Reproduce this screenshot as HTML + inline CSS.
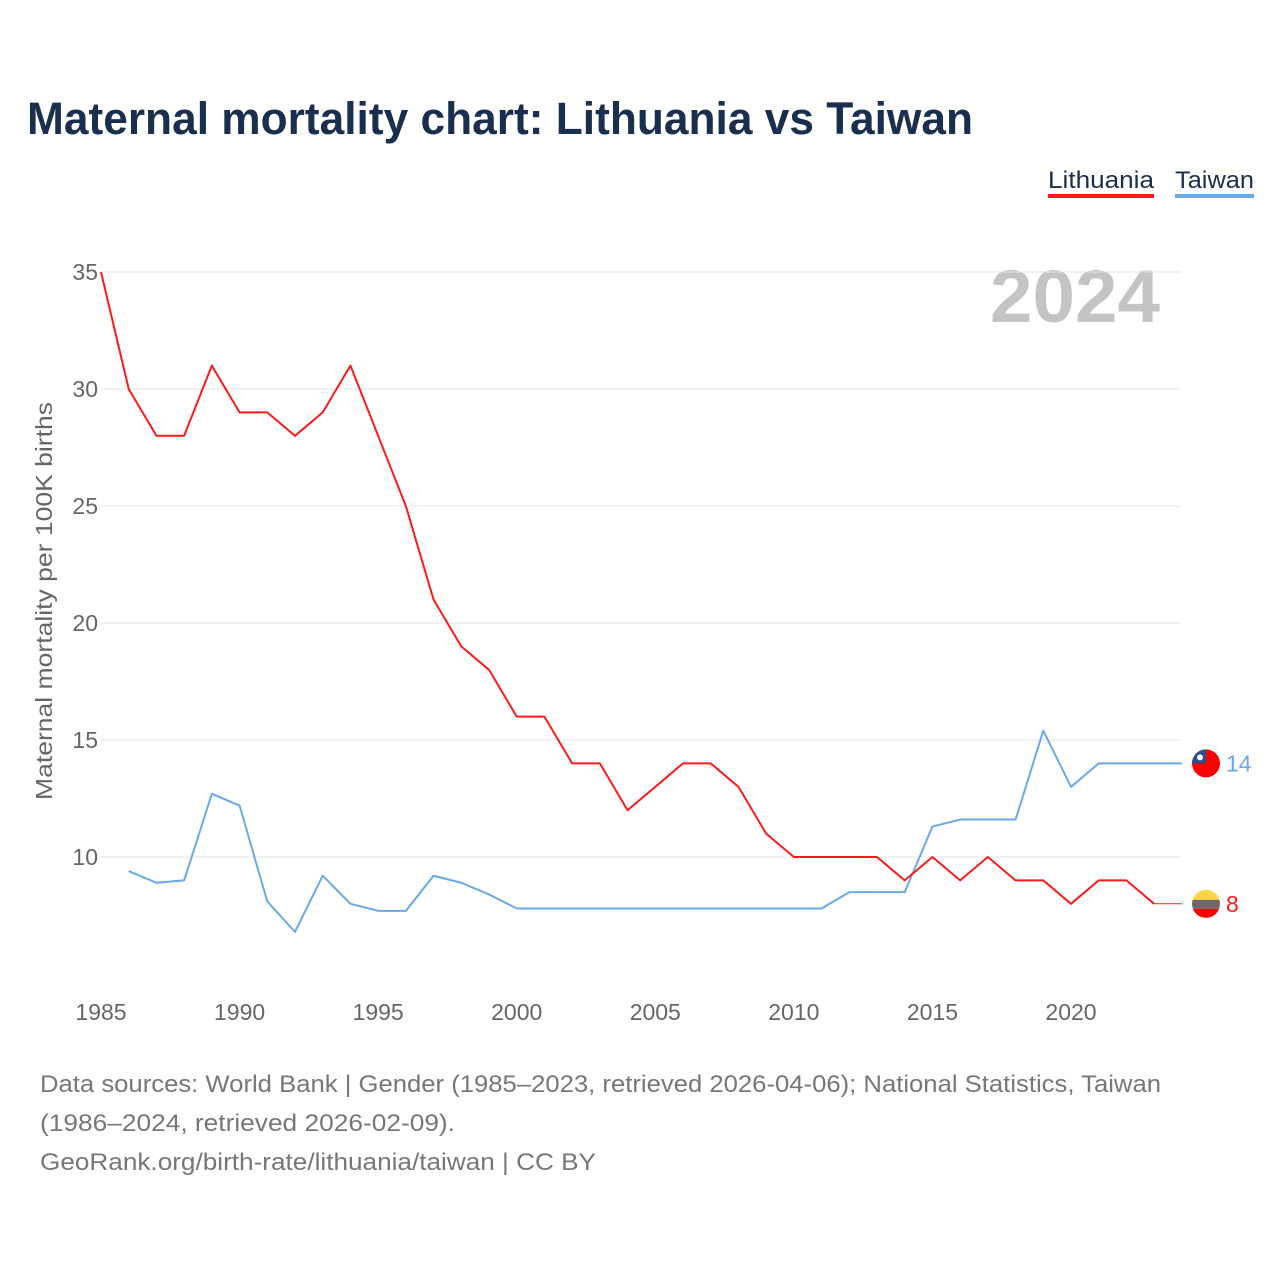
<!DOCTYPE html>
<html><head><meta charset="utf-8"><style>
body{margin:0;background:#fff;font-family:"Liberation Sans",sans-serif}
svg text{font-family:"Liberation Sans",sans-serif}
</style></head><body>
<svg id="c" width="1280" height="1280">
<text x="27" y="134" font-size="45" font-weight="bold" fill="#1a2e4d" textLength="946" lengthAdjust="spacingAndGlyphs">Maternal mortality chart: Lithuania vs Taiwan</text>
<g>
<text x="1048" y="188" font-size="24" fill="#1a2e4d" textLength="106" lengthAdjust="spacingAndGlyphs">Lithuania</text>
<rect x="1048" y="194" width="106" height="4" fill="#ff1a1a"/>
<text x="1175" y="188" font-size="24" fill="#1a2e4d" textLength="79" lengthAdjust="spacingAndGlyphs">Taiwan</text>
<rect x="1175" y="194" width="79" height="4" fill="#6aa9e9"/>
</g>
<text x="1160" y="322" font-size="74" font-weight="bold" fill="#c4c4c4" text-anchor="end" textLength="170" lengthAdjust="spacingAndGlyphs">2024</text>
<text transform="translate(52,601) rotate(-90)" font-size="23" fill="#666" text-anchor="middle" textLength="398" lengthAdjust="spacingAndGlyphs">Maternal mortality per 100K births</text>
<g id="grid"></g><g id="xt"></g><g id="lines"></g>
<g font-size="24" fill="#777">
<text x="40" y="1092" textLength="1121" lengthAdjust="spacingAndGlyphs">Data sources: World Bank | Gender (1985–2023, retrieved 2026-04-06); National Statistics, Taiwan</text>
<text x="40" y="1131" textLength="415" lengthAdjust="spacingAndGlyphs">(1986–2024, retrieved 2026-02-09).</text>
<text x="40" y="1170" textLength="556" lengthAdjust="spacingAndGlyphs">GeoRank.org/birth-rate/lithuania/taiwan | CC BY</text>
</g>
</svg>
<script>
const yTicks=[10,15,20,25,30,35];
const xTicks=[1985,1990,1995,2000,2005,2010,2015,2020];
const ltYears=[1985,1986,1987,1988,1989,1990,1991,1992,1993,1994,1995,1996,1997,1998,1999,2000,2001,2002,2003,2004,2005,2006,2007,2008,2009,2010,2011,2012,2013,2014,2015,2016,2017,2018,2019,2020,2021,2022,2023];
const ltVals=[35,30,28,28,31,29,29,28,29,31,28,25,21,19,18,16,16,14,14,12,13,14,14,13,11,10,10,10,10,9,10,9,10,9,9,8,9,9,8];
const twYears=[1986,1987,1988,1989,1990,1991,1992,1993,1994,1995,1996,1997,1998,1999,2000,2001,2002,2003,2004,2005,2006,2007,2008,2009,2010,2011,2012,2013,2014,2015,2016,2017,2018,2019,2020,2021,2022,2023,2024];
const twVals=[9.4,8.9,9.0,12.7,12.2,8.1,6.8,9.2,8.0,7.7,7.7,9.2,8.9,8.4,7.8,7.8,7.8,7.8,7.8,7.8,7.8,7.8,7.8,7.8,7.8,7.8,8.5,8.5,8.5,11.3,11.6,11.6,11.6,15.4,13.0,14.0,14.0,14.0,14.0];
const ltLast=8, twLast=14;
const X=y=>101+(y-1985)*(970/35);
const Y=v=>857-(v-10)*23.4;
const NS="http://www.w3.org/2000/svg";
function mk(t,a,p){const e=document.createElementNS(NS,t);for(const k in a)e.setAttribute(k,a[k]);p.appendChild(e);return e;}
const g=document.getElementById('grid');
yTicks.forEach(v=>{const l=mk('line',{x1:101,x2:1181,y1:Y(v),y2:Y(v),stroke:'#e6e6e6','stroke-width':1},g);


const t=mk('text',{x:98,y:Y(v)+8,'font-size':23,fill:'#666','text-anchor':'end'},g);t.textContent=v;

});
const xt=document.getElementById('xt');
xTicks.forEach(v=>{const t=mk('text',{x:X(v),y:1020,'font-size':23,fill:'#666','text-anchor':'middle'},xt);t.textContent=v;

});
const L=document.getElementById('lines');
function series(ys,vs,col,name){const p=mk('polyline',{points:ys.map((y,i)=>X(y)+','+Y(vs[i])).join(' '),fill:'none',stroke:col,'stroke-width':2,'stroke-linejoin':'round'},L);

}
series(twYears,twVals,'#6aa9e9','taiwan');
series(ltYears,ltVals,'#ff1a1a','lithuania');
const ext=mk('line',{x1:X(2023),y1:Y(ltVals[ltVals.length-1]),x2:X(2024),y2:Y(ltLast),stroke:'#ff1a1a','stroke-width':1},L);


const fx=1206;
let ty=Y(twLast);
const tf=mk('circle',{cx:fx,cy:ty,r:14,fill:'#fe0000'},L);


mk('path',{d:`M${fx-14} ${ty} A14 14 0 0 1 ${fx} ${ty-14} L${fx} ${ty} Z`,fill:'#2d4d8a'},L);
mk('circle',{cx:fx-6,cy:ty-6,r:3,fill:'#fff'},L);
const t1=mk('text',{x:1226,y:ty+8,'font-size':23,fill:'#6aa9e9'},L);t1.textContent=twLast;


let ly=Y(ltLast);
const cp=mk('clipPath',{id:'lc'},L);mk('circle',{cx:fx,cy:ly,r:14},cp);
const fg=mk('g',{'clip-path':'url(#lc)'},L);


mk('rect',{x:fx-14,y:ly-14,width:28,height:10,fill:'#fdd642'},fg);
mk('rect',{x:fx-14,y:ly-4,width:28,height:9,fill:'#6b6b6b'},fg);
mk('rect',{x:fx-14,y:ly+5,width:28,height:10,fill:'#fe0000'},fg);
const t2=mk('text',{x:1226,y:ly+8,'font-size':23,fill:'#ff1a1a'},L);t2.textContent=ltLast;


</script>
</body></html>
